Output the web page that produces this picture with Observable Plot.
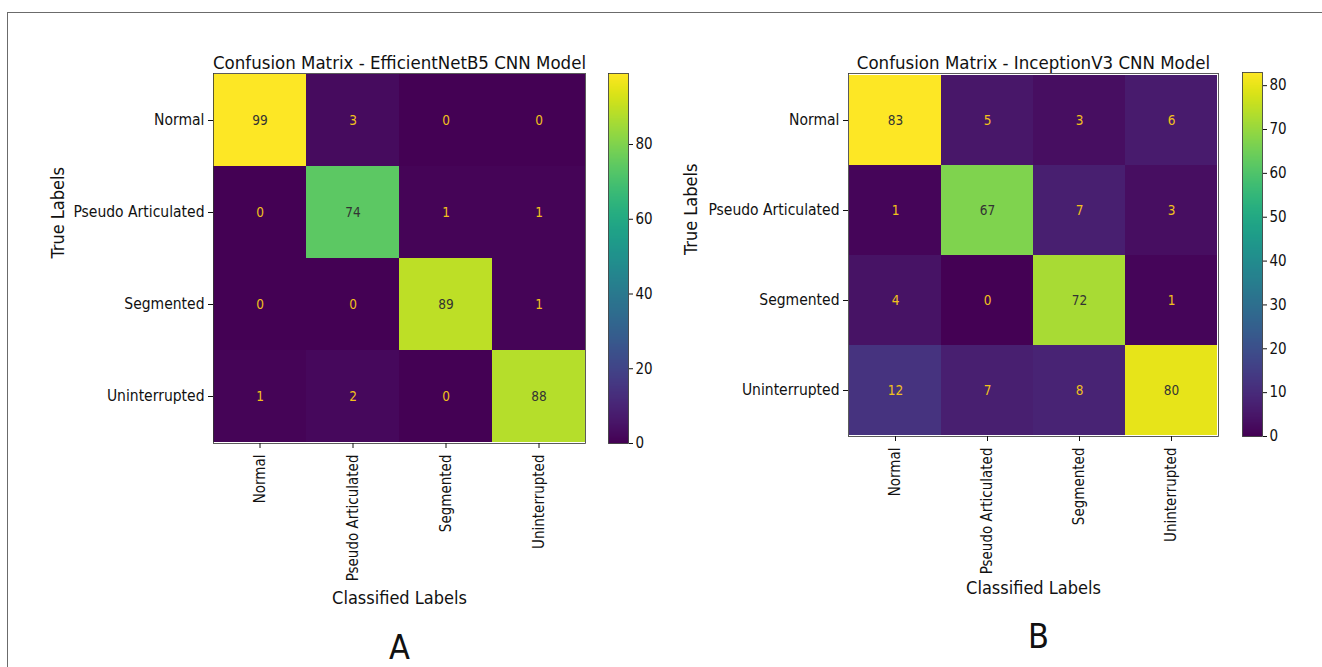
<!DOCTYPE html>
<html>
<head>
<meta charset="utf-8">
<script src="https://cdn.jsdelivr.net/npm/d3@7"></script>
<script src="https://cdn.jsdelivr.net/npm/@observablehq/plot@0.6"></script>
<style>
  html, body { margin: 0; padding: 0; background: #fff; }
  #root { position: relative; width: 1322px; height: 667px; overflow: hidden; background: #fff;
          font-family: "DejaVu Sans Condensed", "DejaVu Sans", sans-serif; }
  #border { position: absolute; left: 7px; top: 12px; width: 1400px; height: 800px;
            border-top: 1.5px solid #6b6b6b; border-left: 1.5px solid #6b6b6b; }
  .abs { position: absolute; }
</style>
</head>
<body>
<div id="root"><div id="border"></div></div>
<script>
// ---- data ----
const classes = ["Normal", "Pseudo Articulated", "Segmented", "Uninterrupted"];
const effValues = [
  [99, 3, 0, 0],
  [0, 74, 1, 1],
  [0, 0, 89, 1],
  [1, 2, 0, 88]
];
const incValues = [
  [83, 5, 3, 6],
  [1, 67, 7, 3],
  [4, 0, 72, 1],
  [12, 7, 8, 80]
];
const effTicks = [0, 20, 40, 60, 80];
const incTicks = [0, 10, 20, 30, 40, 50, 60, 70, 80];
const effTitle = "Confusion Matrix - EfficientNetB5 CNN Model";
const incTitle = "Confusion Matrix - InceptionV3 CNN Model";
const xTitle = "Classified Labels";
const yTitle = "True Labels";
const panelLetters = ["A", "B"];

const FONT = '"DejaVu Sans Condensed", "DejaVu Sans", sans-serif';
const root = document.getElementById("root");

function place(el, left, top) {
  el.classList.add("abs");
  el.style.left = left + "px";
  el.style.top = top + "px";
  root.appendChild(el);
}

function heatmap(values, title, letter, m) {
  const data = [];
  values.forEach((row, i) => row.forEach((v, j) => data.push({t: classes[i], p: classes[j], v})));
  const max = d3.max(data, d => d.v);
  const light = data.filter(d => d.v > max / 2);
  const dark = data.filter(d => d.v <= max / 2);
  return Plot.plot({
    width: 640, height: 667,
    marginLeft: m.left, marginRight: m.right, marginTop: m.top, marginBottom: m.bottom,
    style: {fontFamily: FONT, fontSize: "14px", color: "#111", background: "transparent", overflow: "visible"},
    x: {domain: classes, padding: 0},
    y: {domain: classes, padding: 0},
    color: {type: "linear", scheme: "viridis", domain: [0, max]},
    marks: [
      Plot.cell(data, {x: "p", y: "t", fill: "v"}),
      Plot.text(dark, {x: "p", y: "t", text: d => String(d.v), fill: "#f2c21b", fontSize: 13.5}),
      Plot.text(light, {x: "p", y: "t", text: d => String(d.v), fill: "#333333", fontSize: 13.5}),
      Plot.frame({stroke: "#333", strokeWidth: 0.8}),
      Plot.axisX({anchor: "bottom", tickRotate: -90, tickSize: 5, tickPadding: 6, fontSize: 15, label: null}),
      Plot.axisY({anchor: "left", tickSize: 5, tickPadding: 4, fontSize: 15.5, label: null}),
      Plot.text([xTitle], {frameAnchor: "bottom", lineAnchor: "middle", dy: m.xLabelDy, fontSize: 18, fill: "#111"}),
      Plot.text([yTitle], {frameAnchor: "left", lineAnchor: "middle", rotate: -90, dx: m.yLabelDx, fontSize: 18, fill: "#111"}),
      Plot.text([title], {frameAnchor: "top", lineAnchor: "bottom", dy: -5, fontSize: 18.5, fill: "#111"}),
      Plot.text([letter], {frameAnchor: "bottom", lineAnchor: "middle", dy: m.letterDy, dx: m.letterDx, fontSize: 34, fill: "#111"})
    ]
  });
}

function colorbar(max, ticks, m, h) {
  return Plot.plot({
    width: m.width, height: h,
    marginLeft: m.left, marginRight: m.right, marginTop: m.top, marginBottom: m.bottom,
    style: {fontFamily: FONT, fontSize: "15px", color: "#111", background: "transparent", overflow: "visible"},
    x: {domain: [0, 1], axis: null},
    y: {domain: [0, max], ticks: ticks, tickSize: 4, tickPadding: 3, label: null, axis: "right"},
    color: {type: "linear", scheme: "viridis", domain: [0, max]},
    marks: [
      Plot.raster({x1: 0, x2: 1, y1: 0, y2: max, width: 1, height: 256, fill: (x, y) => y}),
      Plot.frame({stroke: "#333", strokeWidth: 0.8})
    ]
  });
}

// Panel A
place(heatmap(effValues, effTitle, panelLetters[0],
  {left: 213, right: 55, top: 73, bottom: 224, xLabelDy: 155, yLabelDx: -155, letterDy: 205, letterDx: 0}), 0, 0);
place(colorbar(99, effTicks, {width: 100, left: 48, right: 32, top: 73, bottom: 17}, 460), 560, 0);

// Panel B
place(heatmap(incValues, incTitle, panelLetters[1],
  {left: 208, right: 62, top: 73, bottom: 231, xLabelDy: 152, yLabelDx: -157, letterDy: 201, letterDx: 5}), 640, 0);
place(colorbar(83, incTicks, {width: 110, left: 42, right: 48, top: 72, bottom: 24}, 460), 1200, 0);
</script>
</body>
</html>
